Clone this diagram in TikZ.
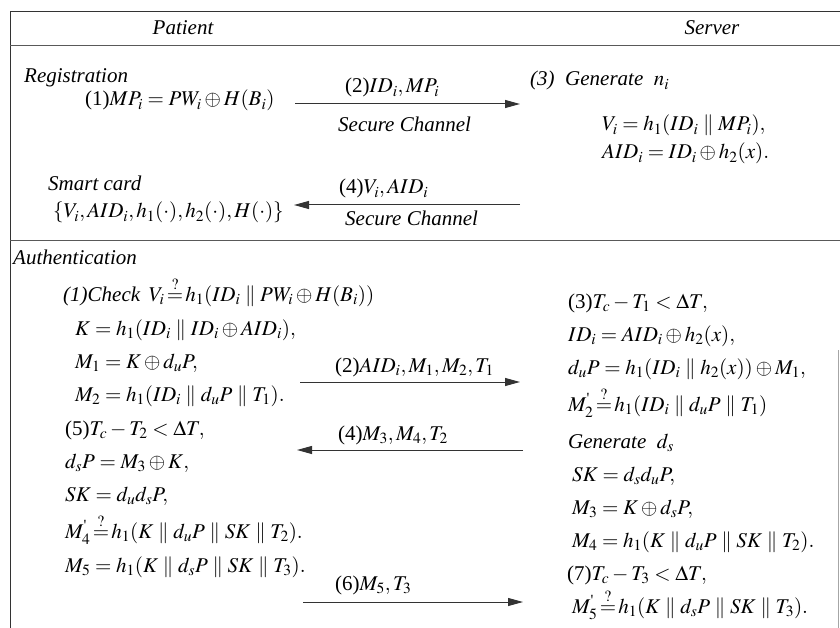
\documentclass[tikz,border=0pt]{standalone}
\usepackage{amsmath}
\usepackage{mathptmx}
\usepackage[no-math]{fontspec}
\setmainfont{Liberation Serif}
\usetikzlibrary{arrows.meta}
\newcommand{\pr}{\text{\textquotesingle}}
\newcommand{\qeq}{\mathrel{\!\overset{?}{=}\!}}
\begin{document}
\begin{tikzpicture}[x=1pt,y=-1pt,
  txt/.style={inner sep=0pt, anchor=base west, font=\fontsize{21}{25}\selectfont},
  head/.style={inner sep=0pt, anchor=base, font=\fontsize{21}{25}\selectfont\itshape},
  msg/.style={-{Triangle[length=15pt,width=8pt]}, line width=1pt, draw=black!80},
  rule/.style={line width=0.9pt, draw=black!65},
  edge/.style={line width=1pt, draw=black!80},
  faint/.style={line width=0.9pt, draw=black!35}]
\useasboundingbox (0,0) rectangle (840,628);
% frame
\draw[edge] (10,12) -- (840,12);
\draw[edge] (10,12) -- (10,628);
\draw[rule] (10,45) -- (840,45);
\draw[rule] (10,240) -- (840,240);
\draw[faint] (838,350) -- (838,628);
% header
\node[head] (hp) at (183,35) {Patient};
\node[head] (hs) at (712,35) {Server};
% registration
\node[txt] (reg) at (24,83) {\itshape Registration};
\node[txt] (r1) at (85,106) {(1)$MP_i = PW_i \oplus H(B_i)$};
\node[txt] (r3) at (530,86) {\itshape (3) \ Generate \ $n_i$};
\node[txt] (r3a) at (602,131) {$V_i = h_1(ID_i \parallel MP_i),$};
\node[txt] (r3b) at (602,159) {$AID_i = ID_i \oplus h_2(x).$};
\node[txt] (sc) at (48,191) {\itshape Smart card};
\node[txt] (scv) at (53,218) {$\{V_i, AID_i, h_1(\cdot), h_2(\cdot), H(\cdot)\}$};
\coordinate (r2s) at (295,104); \coordinate (r2e) at (520,104);
\draw[msg] (r2s) -- (r2e);
\node[txt] (r2l) at (345,93) {(2)$ID_i, MP_i$};
\node[txt] (r2c) at (338,132) {\itshape Secure Channel};
\coordinate (r4s) at (520,205); \coordinate (r4e) at (294,205);
\draw[msg] (r4s) -- (r4e);
\node[txt] (r4l) at (339,194) {(4)$V_i, AID_i$};
\node[txt] (r4c) at (345,226) {\itshape Secure Channel};
% authentication - patient
\node[txt] (auth) at (13,265) {\itshape Authentication};
\node[txt] (p1) at (63,301) {\itshape (1)Check\, $V_i \qeq h_1(ID_i \parallel PW_i \oplus H(B_i))$};
\node[txt] (pk) at (75,335) {$K = h_1(ID_i \parallel ID_i \oplus AID_i),$};
\node[txt] (pm1) at (75,368) {$M_1 = K \oplus d_u P,$};
\node[txt] (pm2) at (75,401) {$M_2 = h_1(ID_i \parallel d_u P \parallel T_1).$};
\node[txt] (p5) at (65,435) {(5)$T_c - T_2 < \Delta T,$};
\node[txt] (pds) at (65,468) {$d_s P = M_3 \oplus K,$};
\node[txt] (psk) at (65,501) {$SK = d_u d_s P,$};
\node[txt] (pm4) at (65,538) {$M_4^{\pr} \qeq h_1(K \parallel d_u P \parallel SK \parallel T_2).$};
\node[txt] (pm5) at (65,572) {$M_5 = h_1(K \parallel d_s P \parallel SK \parallel T_3).$};
% messages
\coordinate (a2s) at (300,382); \coordinate (a2e) at (520,382);
\draw[msg] (a2s) -- (a2e);
\node[txt] (a2l) at (335,372) {(2)$AID_i, M_1, M_2, T_1$};
\coordinate (a4s) at (523,450); \coordinate (a4e) at (297,450);
\draw[msg] (a4s) -- (a4e);
\node[txt] (a4l) at (338,440) {(4)$M_3, M_4, T_2$};
\coordinate (a6s) at (303,602); \coordinate (a6e) at (523,602);
\draw[msg] (a6s) -- (a6e);
\node[txt] (a6l) at (335,590) {(6)$M_5, T_3$};
% authentication - server
\node[txt] (s3) at (568,308) {(3)$T_c - T_1 < \Delta T,$};
\node[txt] (sid) at (568,341) {$ID_i = AID_i \oplus h_2(x),$};
\node[txt] (sdu) at (568,374) {$d_u P = h_1(ID_i \parallel h_2(x)) \oplus M_1,$};
\node[txt] (sm2) at (568,411) {$M_2^{\pr} \qeq h_1(ID_i \parallel d_u P \parallel T_1)$};
\node[txt] (sgen) at (568,448) {\itshape Generate \ $d_s$};
\node[txt] (ssk) at (572,481) {$SK = d_s d_u P,$};
\node[txt] (sm3) at (572,514) {$M_3 = K \oplus d_s P,$};
\node[txt] (sm4) at (572,547) {$M_4 = h_1(K \parallel d_u P \parallel SK \parallel T_2).$};
\node[txt] (s7) at (567,580) {(7)$T_c - T_3 < \Delta T,$};
\node[txt] (sm5) at (572,613) {$M_5^{\pr} \qeq h_1(K \parallel d_s P \parallel SK \parallel T_3).$};
\end{tikzpicture}
\end{document}
